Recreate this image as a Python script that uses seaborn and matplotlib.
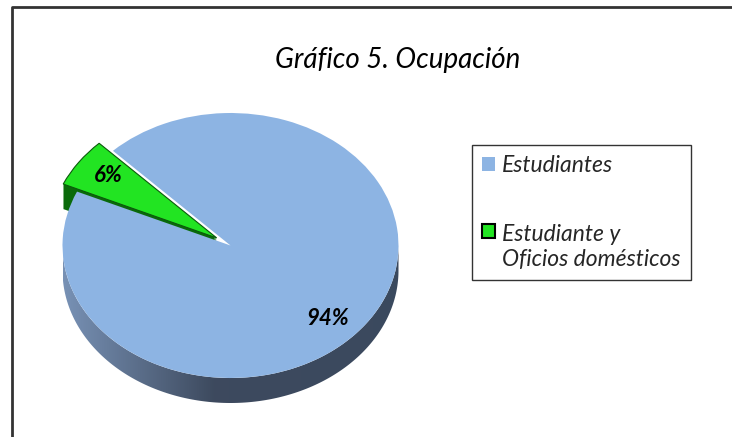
import numpy as np
import matplotlib
matplotlib.use("Agg")
import matplotlib.pyplot as plt
import seaborn as sns
from matplotlib.patches import Patch, PathPatch, Rectangle
from matplotlib.path import Path
from matplotlib.lines import Line2D
from matplotlib.legend_handler import HandlerPatch

# ---- data ----
categories = ["Estudiantes", "Estudiante y\nOficios domésticos"]
values = [94, 6]
pct_labels = ["94%", "6%"]
title = "Gráfico 5. Ocupación"

sns.set_theme(style="white")
plt.rcParams['font.family'] = ['Lato', 'DejaVu Sans']

W, H = 732, 437
fig = plt.figure(figsize=(W / 100, H / 100), dpi=100)
fig.patch.set_facecolor('white')

# pie geometry in pixels
cx, cy, rx, ry = 230.5, 245.5, 168.0, 132.5
xl, xh, yl, yh = -1.3, 1.3, -1.4, 1.3
left_px = cx + xl * rx
right_px = cx + xh * rx
top_px = cy - yh * ry
bot_px = cy - yl * ry
ax = fig.add_axes([left_px / W, (H - bot_px) / H, (right_px - left_px) / W, (bot_px - top_px) / H])

blue = "#8DB4E3"
green = "#22E422"
dark_green = "#0A6A0A"
depth = 25 / ry
explode = [0, 0.1]
start = 156

# side of the green slice (layers)
for k in np.linspace(depth, 0.01, 25):
    ax.pie(values, explode=explode, startangle=start, center=(0, -k),
           colors=["none", dark_green], wedgeprops=dict(linewidth=0))

# side of the blue slice: band below front half, shaded with gradient
t = np.linspace(np.pi, 2 * np.pi, 200)
top_arc = np.column_stack([np.cos(t), np.sin(t)])
bot_arc = np.column_stack([np.cos(t[::-1]), np.sin(t[::-1]) - depth])
verts = np.vstack([top_arc, bot_arc, top_arc[:1]])
codes = [Path.MOVETO] + [Path.LINETO] * (len(verts) - 2) + [Path.CLOSEPOLY]
band = PathPatch(Path(verts, codes), facecolor="none", edgecolor="none")
ax.add_patch(band)
xs = np.linspace(-1, 1, 300)
c_left = np.array([0.47, 0.57, 0.71])
c_mid = np.array([0.24, 0.29, 0.37])
c_right = np.array([0.23, 0.29, 0.37])
grad = np.zeros((2, len(xs), 3))
for i, x in enumerate(xs):
    if x < -0.1:
        f = (x + 1) / 0.9
        grad[:, i] = c_left * (1 - f) + c_mid * f
    else:
        f = (x + 0.1) / 1.1
        grad[:, i] = c_mid * (1 - f) + c_right * f
im = ax.imshow(grad, extent=(-1, 1, -1 - depth, 0), aspect='auto', zorder=1)
im.set_clip_path(band)

# top faces
wedges, _ = ax.pie(values, explode=explode, startangle=start,
                   colors=[blue, green], wedgeprops=dict(linewidth=0))
for wd in wedges:
    wd.set_zorder(3)
wedges[1].set_edgecolor("#0B5A0B")
wedges[1].set_linewidth(0.8)

ax.text(0.58, -0.55, pct_labels[0], ha='center', va='center', fontsize=16,
        style='italic', fontweight='bold', color='black', zorder=5)
ax.text(-0.73, 0.53, pct_labels[1], ha='center', va='center', fontsize=16,
        style='italic', fontweight='bold', color='black', zorder=5)

ax.set_aspect('auto')
ax.set_xlim(xl, xh)
ax.set_ylim(yl, yh)
ax.axis('off')

# title
fig.text(398 / W, 1 - 60 / H, title, ha='center', va='center', fontsize=20,
         style='italic', color='black')

# legend
LFS = 16.5


def top_aligned_patch(legend, orig_handle, xdescent, ydescent, width, height, fontsize):
    return Rectangle((-xdescent, -ydescent + 0.72 * fontsize), width, height)


handles = [Patch(facecolor=blue, edgecolor='none'),
           Patch(facecolor=green, edgecolor='black', linewidth=1.5)]
leg = fig.legend(handles, categories, loc='upper left',
                 bbox_to_anchor=(472 / W, 1 - 145 / H), frameon=True,
                 fancybox=False, edgecolor='black',
                 prop=dict(style='italic', size=LFS), labelspacing=2.1,
                 handlelength=0.55, handleheight=0.55, handletextpad=0.3,
                 borderpad=0.45, borderaxespad=0,
                 handler_map={handles[1]: HandlerPatch(patch_func=top_aligned_patch)})
leg.get_frame().set_linewidth(1.0)
for txt in leg.get_texts():
    txt.set_linespacing(1.2)

# outer frame (left and top)
fig.add_artist(Line2D([11.5 / W, 11.5 / W, 1.0], [0, 1 - 6.5 / H, 1 - 6.5 / H],
                      transform=fig.transFigure, color='#333333', lw=2))

fig.savefig("out.png", dpi=100, facecolor='white')
